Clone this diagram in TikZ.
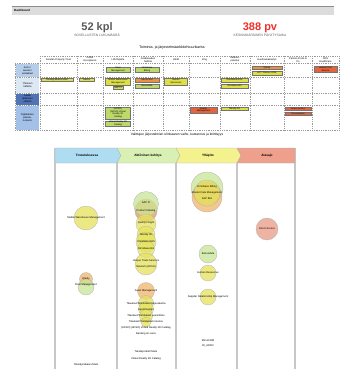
\documentclass[tikz,border=0pt]{standalone}
\usepackage{fontspec}
\setmainfont{Liberation Sans}
\definecolor{barGray}{HTML}{DCDCDC}
\definecolor{kpiGray}{HTML}{5A5A5A}
\definecolor{kpiRed}{HTML}{F0302A}
\definecolor{rowA}{HTML}{B6CDEA}
\definecolor{rowB}{HTML}{DDE8F5}
\definecolor{rowC}{HTML}{4F73B4}
\definecolor{rowD}{HTML}{A3C1E8}
\definecolor{boxGreen}{HTML}{BCD96A}
\definecolor{boxYellow}{HTML}{DDE045}
\definecolor{boxOrange}{HTML}{EF9040}
\definecolor{boxRed}{HTML}{E4643E}
\definecolor{chBlue}{HTML}{AEDCF0}
\definecolor{chGreen}{HTML}{D8F0B4}
\definecolor{chYellow}{HTML}{F4F28E}
\definecolor{chRed}{HTML}{EEA08C}
\definecolor{bGreen}{HTML}{C8E496}
\definecolor{bYellow}{HTML}{E6E25C}
\definecolor{bOrange}{HTML}{F0B468}
\definecolor{bSalmon}{HTML}{E99A84}
\begin{document}
\begin{tikzpicture}
  [x=1pt, y=-1pt, font=\fontsize{2.6}{3}\selectfont,
   txt/.style={inner sep=0pt, align=center},
   gridline/.style={draw=black!40, dash pattern=on 1pt off 0.8pt, line width=0.35pt},
   rowhead/.style={fill=#1, minimum width=23pt, inner sep=0pt, align=center, font=\fontsize{2.5}{2.9}\selectfont},
   colhead/.style={inner sep=0pt, align=center, font=\fontsize{2.5}{2.9}\selectfont},
   cellbox/.style={fill=#1, draw=black!55, line width=0.3pt, inner sep=0.3pt, align=center, font=\fontsize{2.3}{2.7}\selectfont},
   chevron/.style={fill=#1, draw=black!30, line width=0.3pt},
   bubble/.style={circle, fill=#1, fill opacity=0.75, draw=black!30, line width=0.3pt, inner sep=0pt},
   sep/.style={draw=black!22, line width=1.3pt}]
\useasboundingbox (0,0) rectangle (344,370);
\fill[barGray] (12,6) rectangle (334,15);
\draw[black!45, line width=0.6pt] (12,6) -- (334,6);
\node[txt, anchor=west, font=\fontsize{3}{3}\selectfont\bfseries] (dash) at (14,10.5) {Dashboard};

\node[txt, text=kpiGray, font=\fontsize{11}{11}\selectfont\bfseries] (kpi1) at (97,27.5) {52 kpl};
\node[txt, text=kpiGray, font=\fontsize{3.3}{3.3}\selectfont] (kpi1t) at (97,35) {SOVELLUSTEN LUKUMÄÄRÄ};
\node[txt, text=kpiRed, font=\fontsize{11}{11}\selectfont\bfseries] (kpi2) at (260,27.5) {388 pv};
\node[txt, text=kpiGray, font=\fontsize{3.3}{3.3}\selectfont] (kpi2t) at (260,35) {KESKIMÄÄRÄINEN PÄIVITYSAIKA};

\node[txt, font=\fontsize{3.6}{3.6}\selectfont] (title1) at (172,48) {Toiminta- ja järjestelmäarkkitehtuurikartta};

\node[rowhead=rowA, minimum height=13pt] (rh1) at (27.5,70.5) {Arvio /\\asema /\\asiakkaat};
\node[rowhead=rowB, minimum height=15pt] (rh2) at (27.5,85) {Yhteinen\\hallinta};
\node[rowhead=rowC, minimum height=11pt] (rh3) at (27.5,99) {Laskin\\aktiivinen\\yhteisö};
\node[rowhead=rowD, minimum height=24pt] (rh4) at (27.5,117.5) {Digitaalinen\\palvelu-\\tuotanto};

\draw[gridline] (40,56) -- (339,56);
\draw[gridline] (15,63.5) -- (339,63.5);
\draw[gridline] (15,77) -- (339,77);
\draw[gridline] (15,93) -- (339,93);
\draw[gridline] (15,105) -- (339,105);
\draw[gridline] (15,130) -- (339,130);
\draw[gridline] (15,63.5) -- (15,130);
\draw[gridline] (40,56) -- (40,130);
\draw[gridline] (77,56) -- (77,130);
\draw[gridline] (103,56) -- (103,130);
\draw[gridline] (133,56) -- (133,130);
\draw[gridline] (163,56) -- (163,130);
\draw[gridline] (189,56) -- (189,130);
\draw[gridline] (220,56) -- (220,130);
\draw[gridline] (250,56) -- (250,130);
\draw[gridline] (284,56) -- (284,130);
\draw[gridline] (312,56) -- (312,130);
\draw[gridline] (339,56) -- (339,130);

\node[colhead] (c1) at (58.5,59.8) {Sandan Property Trust};
\node[colhead] (c2) at (90,59.8) {Credit\\Acceptance};
\node[colhead] (c3) at (118,59.8) {LähiTapiola};
\node[colhead] (c4) at (148,59.8) {Asiakkuuden\\hallinta};
\node[colhead] (c5) at (176,59.8) {HRM};
\node[colhead] (c6) at (204.5,59.8) {Zing};
\node[colhead] (c7) at (235,59.8) {Kaupan-\\palvelut};
\node[colhead] (c8) at (267,59.8) {Huoltoasiakastyö};
\node[colhead] (c9) at (298,59.8) {Parisso Fruits \&\\Co};
\node[colhead] (c10) at (325.5,59.8) {CRS\\Healthcare};

\node[cellbox=boxGreen, minimum width=24pt, minimum height=5.5pt] (fleet) at (118,69.5) {Fleet\\Management};
\node[cellbox=boxGreen, minimum width=24pt, minimum height=5.5pt] (billing) at (147,69.5) {Omnibase\\Billing};
\node[cellbox=boxOrange, minimum width=30pt, minimum height=3.5pt] (qlarity) at (267,67.7) {Qlarity};
\node[cellbox=boxYellow, minimum width=30pt, minimum height=3.5pt] (planner) at (267,73) {BI-T: Planner 2018};
\node[cellbox=boxRed, minimum width=23pt, minimum height=6pt] (heavy) at (325.5,69) {Heavier First\\Service};
\node[cellbox=boxYellow, minimum width=32pt, minimum height=3pt] (mato) at (57,79.5) {Tekoälyratkaisu Mato};
\node[cellbox=boxYellow, minimum width=15pt, minimum height=3pt] (hansa) at (86.5,79.5) {Hansa};
\node[cellbox=boxYellow, minimum width=25pt, minimum height=7pt] (mwm) at (118,81.5) {Mobile Warehouse\\Management};
\node[cellbox=boxYellow, minimum width=10pt, minimum height=3pt] (sapfi) at (118,88) {SAP FI};
\node[cellbox=boxOrange, minimum width=24pt, minimum height=3.5pt] (microcrm) at (147,80) {MicroCRM};
\node[cellbox=boxGreen, minimum width=24pt, minimum height=3.5pt] (bonus) at (147,86) {Bonusdata};
\node[cellbox=boxYellow, minimum width=23pt, minimum height=7pt] (hr) at (176,81.5) {Human\\Resources};
\node[cellbox=boxYellow, minimum width=27pt, minimum height=3.5pt] (ras) at (234.5,80) {Omnibase RAS};
\node[cellbox=boxYellow, minimum width=27pt, minimum height=3.5pt] (biz) at (234.5,86) {Omnibase Biz};
\node[cellbox=boxGreen, minimum width=25pt, minimum height=12pt] (adso) at (118,113) {(ADSO)\\(ADSO) Virtual\\Reality 3D\\Catalog};
\node[cellbox=boxGreen, minimum width=25pt, minimum height=5pt] (vr) at (118,123.5) {Virtual Reality 3D\\Catalog};
\node[cellbox=boxRed, minimum width=27pt, minimum height=6pt] (quality) at (203.5,110) {Quality\\Management};
\node[cellbox=boxYellow, minimum width=27pt, minimum height=3pt] (tekoaly) at (234.5,108.5) {Tekoäly 3D};
\node[cellbox=boxRed, minimum width=26pt, minimum height=3pt] (direct) at (298,108.5) {Direct Access};
\node[cellbox=boxRed, minimum width=26pt, minimum height=3pt] (procure) at (298,113.5) {Procurement};

\node[txt, font=\fontsize{3.3}{3.3}\selectfont] (title2) at (177,134.5) {Valittujen järjestelmien elinkaaren vaihe, kustannus ja kriittisyys};

\draw[sep] (55,148) -- (55,369);
\draw[sep] (117,163) -- (117,369);
\draw[sep] (176,163) -- (176,369);
\draw[sep] (237,163) -- (237,369);
\draw[sep] (295,148) -- (295,369);
\draw[chevron=chBlue] (55,148) -- (117,148) -- (121,155.5) -- (117,163) -- (55,163) -- cycle;
\draw[chevron=chGreen] (117,148) -- (176,148) -- (180,155.5) -- (176,163) -- (117,163) -- (121,155.5) -- cycle;
\draw[chevron=chYellow] (176,148) -- (237,148) -- (241,155.5) -- (237,163) -- (176,163) -- (180,155.5) -- cycle;
\draw[chevron=chRed] (237,148) -- (295,148) -- (295,163) -- (237,163) -- (241,155.5) -- cycle;
\node[txt, font=\fontsize{3.2}{3.2}\selectfont\bfseries] (ph1) at (87,155.5) {Toteutuksessa};
\node[txt, font=\fontsize{3.2}{3.2}\selectfont\bfseries] (ph2) at (148,155.5) {Aktiivinen kehitys};
\node[txt, font=\fontsize{3.2}{3.2}\selectfont\bfseries] (ph3) at (208,155.5) {Ylläpito};
\node[txt, font=\fontsize{3.2}{3.2}\selectfont\bfseries] (ph4) at (267,155.5) {Alasajo};

\node[bubble=bYellow, minimum size=24pt] (b1) at (86,218) {};
\node[bubble=bOrange, minimum size=13pt] (b2) at (86,279) {};
\node[bubble=bGreen, minimum size=16pt] (b3) at (86,287) {};
\node[txt] (l1) at (86,218) {Mobile Warehouse Management};
\node[txt] (l2) at (86,279) {Qlarity};
\node[txt] (l3) at (86,285) {Fleet Management};
\node[txt] (l4) at (86,365) {Tekoälyratkaisu Mato};

\node[bubble=bSalmon, minimum size=22pt] (b5) at (146,211) {};
\node[bubble=bOrange, minimum size=22pt] (b6) at (146,210) {};
\node[bubble=bGreen, minimum size=25pt] (b4) at (146,204) {};
\node[bubble=bYellow, minimum size=20pt] (b7) at (146,224) {};
\node[bubble=bYellow, minimum size=18pt] (b8) at (146,235) {};
\node[bubble=bYellow, minimum size=20pt] (b9) at (146,242) {};
\node[bubble=bYellow, minimum size=17pt] (b10) at (146,249) {};
\node[bubble=bYellow, minimum size=22pt] (b11) at (146,264) {};
\node[bubble=bOrange, minimum size=17pt] (b12) at (146,291) {};
\node[bubble=bYellow, minimum size=15pt] (b13) at (146,303) {};
\node[bubble=bYellow, minimum size=15pt] (b14) at (146,309) {};
\node[bubble=bYellow, minimum size=13pt] (b15) at (146,316) {};
\node[bubble=bYellow, minimum size=10pt] (b16) at (146,322) {};
\node[txt] (l5) at (146,203) {SAP FI};
\node[txt] (l6) at (146,211) {Product Catalog};
\node[txt] (l7) at (146,223) {Quality Insight};
\node[txt] (l8) at (146,235) {Tekoäly 3D};
\node[txt] (l9) at (146,242) {Omnibase RAS};
\node[txt] (l10) at (146,249) {Omnibase Biz};
\node[txt] (l11) at (146,261) {Unique Trade Services};
\node[txt] (l12) at (146,267) {Network (ADSO)};
\node[txt] (l13) at (146,291) {Asset Management};
\node[txt] (l14) at (146,303.5) {Tilaukset/Toimitukset tarjouskanta};
\node[txt] (l15) at (146,310) {Agent Design};
\node[txt] (l16) at (146,316) {Tilaukset/Toimitukset suunnittelu};
\node[txt] (l17) at (146,322) {Tilaukset/Toimitukset toteutus};
\node[txt] (l18) at (146,328) {(ADSO) (ADSO) Virtual Reality 3D Catalog};
\node[txt] (l19) at (146,334) {Banking \& Loans};
\node[txt] (l20) at (146,352) {Tekoälyrobotti Mato};
\node[txt] (l21) at (146,359) {Virtual Reality 3D Catalog};

\node[bubble=bGreen, minimum size=32pt] (b17) at (207,188) {};
\node[bubble=bOrange, minimum size=30pt] (b18) at (207,197) {};
\node[bubble=bYellow, minimum size=26pt] (b19) at (207,193) {};
\node[bubble=bGreen, minimum size=18pt] (b20) at (208,254) {};
\node[bubble=bYellow, minimum size=16pt] (b21) at (208,273) {};
\node[bubble=bYellow, minimum size=16pt] (b22) at (208,297) {};
\node[txt] (l22) at (207,187) {Omnibase Billing};
\node[txt] (l23) at (207,193) {Master Data Management};
\node[txt] (l24) at (207,199) {SAP BIA};
\node[txt] (l25) at (208,254) {Bonusdata};
\node[txt] (l26) at (208,273) {Human Resources};
\node[txt] (l27) at (208,297) {Supplier Relationship Management};
\node[txt] (l28) at (208,341) {MicroCRM};
\node[txt] (l29) at (208,346) {BI\_ADSO};

\node[bubble=bSalmon, minimum size=22pt] (b23) at (267,229) {};
\node[txt] (l30) at (267,229) {Direct Access};
\end{tikzpicture}
\end{document}
